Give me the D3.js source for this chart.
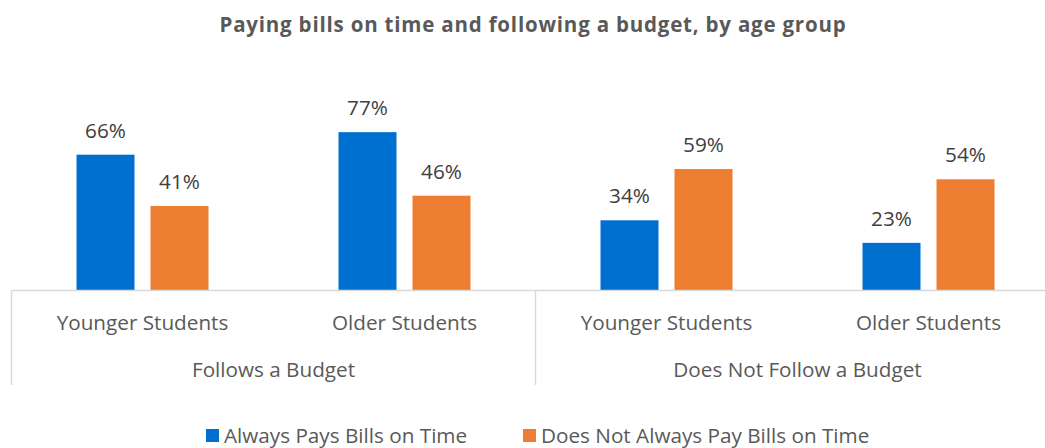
<!DOCTYPE html>
<html>
<head>
<meta charset="utf-8">
<script src="https://cdn.jsdelivr.net/npm/d3@7"></script>
<style>
  html, body { margin: 0; padding: 0; background: #fff; }
  svg { display: block; font-family: "Open Sans", "Noto Sans", sans-serif; }
</style>
</head>
<body>
<svg id="chart" width="1045" height="448"></svg>
<script>
// Chart data
const groups = ["Follows a Budget", "Does Not Follow a Budget"];
const subgroups = ["Younger Students", "Older Students"];
const seriesNames = ["Always Pays Bills on Time", "Does Not Always Pay Bills on Time"];
const alwaysPays = [66, 77, 34, 23];
const notAlwaysPays = [41, 46, 59, 54];
const colors = ["#0070D0", "#ED7D31"];

const svg = d3.select("#chart");
const width = 1045, height = 448;

// Plot geometry
const x0 = 11.5, bandW = 262;
const baseY = 290;
const labelSize = 20.7;

const categories = [];
groups.forEach((g, gi) => subgroups.forEach((s, si) => categories.push({ id: gi + "-" + si, group: g, sub: s, gi, idx: gi * 2 + si })));

const x = d3.scaleBand()
  .domain(categories.map(d => d.id))
  .range([x0, x0 + bandW * categories.length])
  .paddingInner(0).paddingOuter(0);

const xSeries = d3.scaleBand()
  .domain(seriesNames)
  .range([65, 197])
  .paddingInner(16 / 74);

const y = d3.scaleLinear().domain([0, 100]).range([baseY, baseY - 205]);

const color = d3.scaleOrdinal().domain(seriesNames).range(colors);

// Title
svg.append("text")
  .attr("x", 533).attr("y", 32)
  .attr("text-anchor", "middle")
  .attr("font-size", 20.5).attr("font-weight", 700)
  .attr("letter-spacing", 0.8)
  .attr("fill", "#595959")
  .text("Paying bills on time and following a budget, by age group");

// Bars
const rows = categories.map((c, i) => ({ cat: c, values: [alwaysPays[i], notAlwaysPays[i]] }));
const catG = svg.selectAll("g.cat").data(rows).join("g")
  .attr("class", "cat")
  .attr("transform", d => `translate(${x(d.cat.id)},0)`);

catG.selectAll("rect").data(d => d.values.map((v, k) => ({ name: seriesNames[k], v })))
  .join("rect")
  .attr("x", d => xSeries(d.name))
  .attr("width", xSeries.bandwidth())
  .attr("y", d => y(d.v))
  .attr("height", d => y(0) - y(d.v))
  .attr("fill", d => color(d.name));

catG.selectAll("text.val").data(d => d.values.map((v, k) => ({ name: seriesNames[k], v })))
  .join("text")
  .attr("class", "val")
  .attr("x", d => xSeries(d.name) + xSeries.bandwidth() / 2)
  .attr("y", d => y(d.v) - 17)
  .attr("text-anchor", "middle")
  .attr("font-size", labelSize)
  .attr("fill", "#404040")
  .text(d => d.v + "%");

// Category axis: baseline and separators
const axisColor = "#D9D9D9";
svg.append("line")
  .attr("x1", x0).attr("x2", width)
  .attr("y1", baseY + 0.5).attr("y2", baseY + 0.5)
  .attr("stroke", axisColor).attr("stroke-width", 1.5);

[0, 2, 4].forEach(i => {
  const xx = x0 + bandW * i;
  if (xx < width) {
    svg.append("line")
      .attr("x1", xx).attr("x2", xx)
      .attr("y1", baseY).attr("y2", 385)
      .attr("stroke", axisColor).attr("stroke-width", 1.5);
  }
});

// Subgroup labels
svg.selectAll("text.sub").data(categories).join("text")
  .attr("class", "sub")
  .attr("x", d => x(d.id) + bandW / 2)
  .attr("y", 330)
  .attr("text-anchor", "middle")
  .attr("font-size", labelSize)
  .attr("fill", "#595959")
  .text(d => d.sub);

// Group labels
svg.selectAll("text.grp").data(groups).join("text")
  .attr("class", "grp")
  .attr("x", (d, i) => x0 + bandW * (2 * i + 1))
  .attr("y", 377)
  .attr("text-anchor", "middle")
  .attr("font-size", labelSize)
  .attr("fill", "#595959")
  .text(d => d);

// Legend
const legendX = [206, 523];
const leg = svg.selectAll("g.leg").data(seriesNames).join("g")
  .attr("class", "leg")
  .attr("transform", (d, i) => `translate(${legendX[i]},429)`);
leg.append("rect").attr("width", 13).attr("height", 13).attr("fill", d => color(d));
leg.append("text")
  .attr("x", 18).attr("y", 13.5)
  .attr("font-size", labelSize)
  .attr("fill", "#595959")
  .text(d => d);
</script>
</body>
</html>
